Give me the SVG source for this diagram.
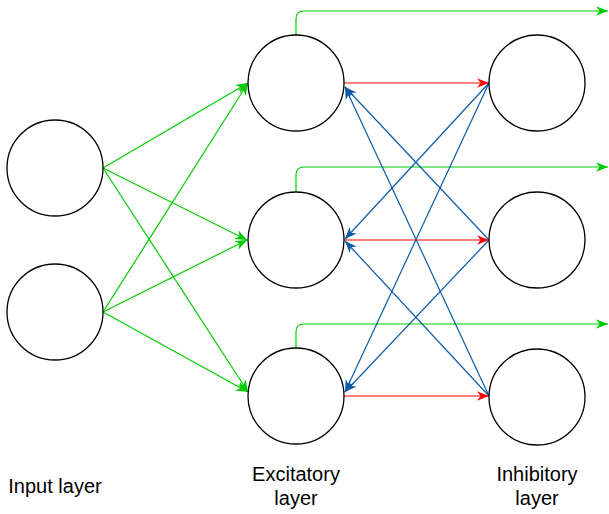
<svg xmlns="http://www.w3.org/2000/svg" width="609" height="514" viewBox="0 0 609 514">
<style>
.node{fill:#ffffff;stroke:#000000;stroke-width:1.3}
.lbl{font-family:"Liberation Sans",Arial,sans-serif;font-size:20px;fill:#000000;text-anchor:middle}
.g{fill:none;stroke:#00CC00;stroke-width:1.2}
.r{fill:none;stroke:#FF0000;stroke-width:1.2}
.b{fill:none;stroke:#0D5AA7;stroke-width:1.2}
</style>
<defs>
<marker id="ag" viewBox="0 0 10 8" refX="10" refY="4" markerWidth="12" markerHeight="10" markerUnits="userSpaceOnUse" orient="auto"><path d="M0,0 L10,4 L0,8 L3,4 z" fill="#00CC00"/></marker>
<marker id="ar" viewBox="0 0 10 8" refX="10" refY="4" markerWidth="12" markerHeight="10" markerUnits="userSpaceOnUse" orient="auto"><path d="M0,0 L10,4 L0,8 L3,4 z" fill="#FF0000"/></marker>
<marker id="ab" viewBox="0 0 10 8" refX="10" refY="4" markerWidth="12" markerHeight="10" markerUnits="userSpaceOnUse" orient="auto"><path d="M0,0 L10,4 L0,8 L3,4 z" fill="#0D5AA7"/></marker>
</defs>
<g id="connectors">
<g id="input-edges">
<line class="g" x1="103" y1="168" x2="248" y2="83" marker-end="url(#ag)"/>
<line class="g" x1="103" y1="168" x2="247" y2="240" marker-end="url(#ag)"/>
<line class="g" x1="103" y1="168" x2="248" y2="392" marker-end="url(#ag)"/>
<line class="g" x1="103" y1="312" x2="248" y2="83" marker-end="url(#ag)"/>
<line class="g" x1="103" y1="312" x2="247" y2="240" marker-end="url(#ag)"/>
<line class="g" x1="103" y1="312" x2="248" y2="392" marker-end="url(#ag)"/>
</g>
<g id="output-edges">
<path class="g" d="M296,35 L296,19 Q296,11 304,11 L608,11" marker-end="url(#ag)"/>
<path class="g" d="M296,192 L296,175 Q296,167 304,167 L608,167" marker-end="url(#ag)"/>
<path class="g" d="M296,348 L296,332 Q296,324 304,324 L608,324" marker-end="url(#ag)"/>
</g>
<g id="excitatory-to-inhibitory">
<line class="r" x1="344" y1="83" x2="489" y2="83" marker-end="url(#ar)"/>
<line class="r" x1="344" y1="240" x2="489" y2="240" marker-end="url(#ar)"/>
<line class="r" x1="344" y1="396" x2="489" y2="396" marker-end="url(#ar)"/>
</g>
<g id="inhibitory-to-excitatory">
<line class="b" x1="489" y1="240" x2="345" y2="87" marker-end="url(#ab)"/>
<line class="b" x1="489" y1="396" x2="345" y2="87" marker-end="url(#ab)"/>
<line class="b" x1="489" y1="83" x2="345" y2="239" marker-end="url(#ab)"/>
<line class="b" x1="489" y1="396" x2="345" y2="241" marker-end="url(#ab)"/>
<line class="b" x1="489" y1="83" x2="345" y2="392" marker-end="url(#ab)"/>
<line class="b" x1="489" y1="240" x2="345" y2="392" marker-end="url(#ab)"/>
</g>
</g>
<g id="input1"><circle class="node" cx="55" cy="168" r="48"/></g>
<g id="input2"><circle class="node" cx="55" cy="312" r="48"/></g>
<g id="exc1"><circle class="node" cx="296" cy="83" r="48"/></g>
<g id="exc2"><circle class="node" cx="296" cy="240" r="48"/></g>
<g id="exc3"><circle class="node" cx="296" cy="396" r="48"/></g>
<g id="inh1"><circle class="node" cx="537" cy="83" r="48"/></g>
<g id="inh2"><circle class="node" cx="537" cy="240" r="48"/></g>
<g id="inh3"><circle class="node" cx="537" cy="397" r="48"/></g>
<g id="label-input"><text class="lbl" x="55" y="493">Input layer</text></g>
<g id="label-excitatory"><text class="lbl" x="296" y="481">Excitatory</text><text class="lbl" x="296" y="505">layer</text></g>
<g id="label-inhibitory"><text class="lbl" x="537" y="481">Inhibitory</text><text class="lbl" x="537" y="505">layer</text></g>
</svg>
